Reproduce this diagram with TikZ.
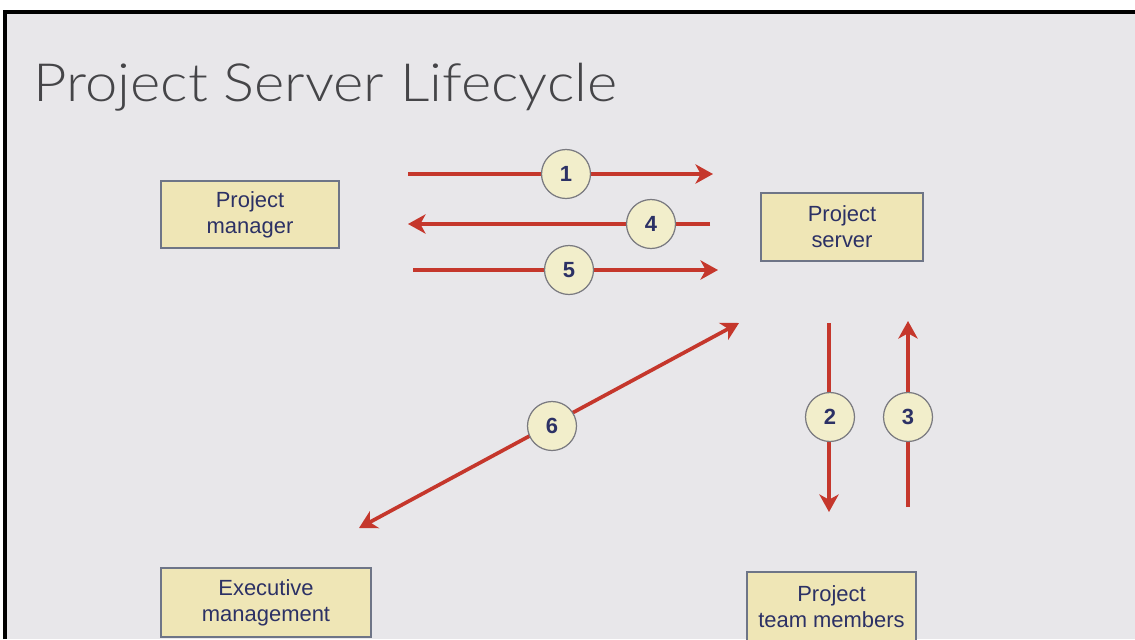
\documentclass[tikz,border=0pt]{standalone}
\usepackage{fontspec}
\setmainfont{Liberation Sans}
\IfFontExistsTF{Lato Light}{\newfontfamily\titlefont{Lato Light}}{%
  \IfFontExistsTF{Fira Sans Light}{\newfontfamily\titlefont{Fira Sans Light}}{%
    \newfontfamily\titlefont{Carlito}}}
\usetikzlibrary{arrows.meta}

\definecolor{slidegray}{HTML}{E8E7EA}
\definecolor{titlegray}{HTML}{454548}
\definecolor{boxfill}{HTML}{EFE6B6}
\definecolor{boxedge}{HTML}{6E7587}
\definecolor{boxtext}{HTML}{2C3165}
\definecolor{circfill}{HTML}{F2EECB}
\definecolor{circedge}{HTML}{7A7A80}
\definecolor{flowred}{HTML}{C5372C}

\tikzset{
  actor/.style={draw=boxedge, fill=boxfill, line width=0.8pt, text=boxtext,
    align=center, inner sep=0pt, font=\fontsize{12.5}{14.8}\selectfont},
  stepnum/.style={circle, draw=circedge, fill=circfill, line width=0.7pt,
    minimum size=0.98cm, inner sep=0pt, text=boxtext,
    font=\fontsize{12.5}{13}\selectfont\bfseries},
  flow/.style={draw=flowred, line width=2.1pt,
    -{Stealth[length=10pt, width=11pt, inset=3pt]}},
  twoway/.style={flow, {Stealth[length=10pt, width=11pt, inset=3pt]}-{Stealth[length=10pt, width=11pt, inset=3pt]}}
}

\begin{document}
\begin{tikzpicture}[x=0.02cm, y=-0.02cm]
\useasboundingbox (0,0) rectangle (1135,639);
% slide background and frame
\fill [white] (0,0) rectangle (1135,639);
\fill [slidegray] (5,12) rectangle (1135,639);
\draw [black, line width=1.8pt] (5,639) -- (5,12) -- (1135,12);
\node [anchor=base west, inner sep=0pt, text=titlegray,
  font=\titlefont\fontsize{30}{34}\selectfont] (title) at (33,101) {\scalebox{1.1}[1]{Project Server Lifecycle}};

% the four parties
\node [actor, minimum width=3.56cm, minimum height=1.34cm] (pm) at (250,214.5) {Project\\manager};
\node [actor, minimum width=3.24cm, minimum height=1.36cm] (srv) at (842,227) {Project\\server};
\node [actor, minimum width=4.2cm, minimum height=1.38cm] (exec) at (266,602.5) {Executive\\management};
\node [actor, minimum width=3.38cm, minimum height=1.4cm] (team) at (831.5,607) {Project\\team members};

% arrow end points
\coordinate (a1) at (408,174);  \coordinate (b1) at (713,174);
\coordinate (a4) at (710,224);  \coordinate (b4) at (408,224);
\coordinate (a5) at (413,270);  \coordinate (b5) at (718,270);
\coordinate (a2) at (829,323);  \coordinate (b2) at (829,512);
\coordinate (a3) at (908,507);  \coordinate (b3) at (908,321);
\coordinate (a6) at (359,528);  \coordinate (b6) at (739,323);

\draw [flow] (a1) -- (b1);
\draw [flow] (a4) -- (b4);
\draw [flow] (a5) -- (b5);
\draw [flow] (a2) -- (b2);
\draw [flow] (a3) -- (b3);
\draw [twoway] (a6) -- (b6);

% step numbers
\node [stepnum] (c1) at (566,174) {1};
\node [stepnum] (c2) at (830,417) {2};
\node [stepnum] (c3) at (908,417) {3};
\node [stepnum] (c4) at (651,224) {4};
\node [stepnum] (c5) at (569,270) {5};
\node [stepnum] (c6) at (552,426) {6};
\end{tikzpicture}
\end{document}
